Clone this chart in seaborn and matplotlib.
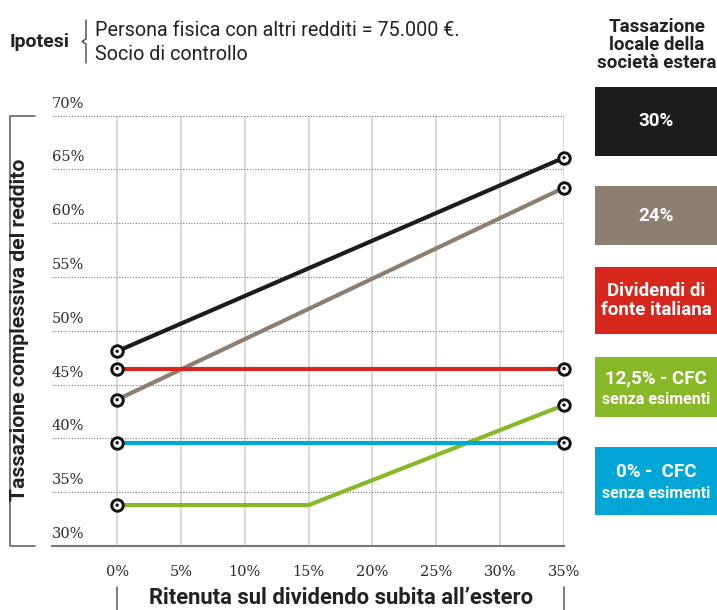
import pandas as pd
import numpy as np
import matplotlib.pyplot as plt
import seaborn as sns
from matplotlib.lines import Line2D
from matplotlib.patches import Rectangle
from matplotlib.transforms import ScaledTranslation

# dati
ritenuta = [0, 35]
ritenuta_cfc125 = [0, 15, 35]
tax_30 = [48.1, 66.1]
tax_24 = [43.6, 63.3]
div_italiani = [46.5, 46.5]
cfc_125 = [33.8, 33.8, 43.1]
cfc_0 = [39.6, 39.6]

y_ticks = [30, 35, 40, 45, 50, 55, 60, 65, 70]
x_ticks = [0, 5, 10, 15, 20, 25, 30, 35]

serie_nomi = ['30%', '24%', 'Dividendi di fonte italiana', '12,5% - CFC', '0% - CFC']
colori = {'30%': '#1e1c1a', '24%': '#8c7f71', 'Dividendi di fonte italiana': '#d7261b',
          '12,5% - CFC': '#86b828', '0% - CFC': '#00a6d6'}

df = pd.concat([
    pd.DataFrame({'ritenuta': ritenuta, 'tassazione': tax_30, 'serie': '30%'}),
    pd.DataFrame({'ritenuta': ritenuta, 'tassazione': tax_24, 'serie': '24%'}),
    pd.DataFrame({'ritenuta': ritenuta, 'tassazione': div_italiani, 'serie': 'Dividendi di fonte italiana'}),
    pd.DataFrame({'ritenuta': ritenuta_cfc125, 'tassazione': cfc_125, 'serie': '12,5% - CFC'}),
    pd.DataFrame({'ritenuta': ritenuta, 'tassazione': cfc_0, 'serie': '0% - CFC'}),
], ignore_index=True)

#%%

sns.set_style('white')
plt.rcParams['font.family'] = ['Liberation Sans Narrow', 'Roboto', 'DejaVu Sans']

W, H = 717, 610
fig = plt.figure(figsize=(W / 100, H / 100), dpi=100)
ax = fig.add_axes([52 / W, 1 - 546 / H, (564 - 52) / W, (546 - 115.7) / H])

sns.lineplot(data=df, x='ritenuta', y='tassazione', hue='serie', hue_order=serie_nomi,
             palette=colori, linewidth=3, legend=False, sort=False, ax=ax, zorder=3)

estremi = df[df['ritenuta'].isin([0, 35])]
sns.scatterplot(data=estremi, x='ritenuta', y='tassazione', s=68, color='white',
                edgecolor='#111111', linewidth=2.1, ax=ax, zorder=5, clip_on=False)
sns.scatterplot(data=estremi, x='ritenuta', y='tassazione', s=6, color='#111111',
                edgecolor='none', ax=ax, zorder=6, clip_on=False)

ax.set_xlim(-5.1, 35)
ax.set_ylim(30, 70)
ax.set_xticks(x_ticks)
ax.set_xticklabels([f'{v}%' for v in x_ticks])
ax.set_yticks(y_ticks)
ax.set_yticklabels([f'{v}%' for v in y_ticks])
ax.set_xlabel('')
ax.set_ylabel('')

# griglia
for v in y_ticks[1:]:
    ax.axhline(v, color='#777777', linestyle=(0, (1, 1.5)), linewidth=0.8, zorder=1)
for v in x_ticks:
    ax.axvline(v, color='#d9d5cd', linewidth=1.3, zorder=0.5)

for side in ['top', 'right', 'left']:
    ax.spines[side].set_visible(False)
ax.spines['bottom'].set_color('#777777')
ax.spines['bottom'].set_linewidth(1.5)

ax.tick_params(axis='x', length=0, pad=14, labelsize=10.5, labelcolor='#2a2a2a')
ax.tick_params(axis='y', length=0, pad=0, labelsize=10.5, labelcolor='#2a2a2a')
for lab in ax.get_xticklabels():
    lab.set_fontfamily('DejaVu Serif')
for lab in ax.get_yticklabels():
    lab.set_fontfamily('DejaVu Serif')
    lab.set_ha('left')
    lab.set_va('bottom')
    lab.set_transform(lab.get_transform() + ScaledTranslation(0, 5 / 100, fig.dpi_scale_trans))


def fx(x):
    return x / W


def fy(y):
    return 1 - y / H


def linea(xs, ys, color='#666666', lw=1.2):
    fig.add_artist(Line2D([fx(x) for x in xs], [fy(y) for y in ys], color=color,
                          linewidth=lw, solid_joinstyle='round', solid_capstyle='round'))


# etichette assi
fig.text(fx(20), fy(330), 'Tassazione complessiva del reddito', rotation=90,
         ha='center', va='center', fontsize=15.3, fontweight='bold', color='#222222')
linea([35, 10, 10, 35], [116, 116, 546, 546])

fig.text(fx(341), fy(598), 'Ritenuta sul dividendo subita all\u2019estero',
         ha='center', va='center', fontsize=15.8, fontweight='bold', color='#222222')
linea([117, 117], [587, 610])
linea([564, 564], [587, 610])

# ipotesi
fig.text(fx(10), fy(42), 'Ipotesi', ha='left', va='center', fontsize=14,
         fontweight='bold', color='#222222')
linea([86, 86, 82, 86, 86], [20, 39, 41.5, 44, 63], color='#444444', lw=1)
fig.text(fx(95), fy(31), 'Persona fisica con altri redditi = 75.000 \u20ac.', ha='left',
         va='center', fontsize=14.2, color='#222222', family=['Roboto', 'DejaVu Sans'])
fig.text(fx(95), fy(54), 'Socio di controllo', ha='left', va='center', fontsize=14.2,
         color='#222222', family=['Roboto', 'DejaVu Sans'])

# legenda a destra
fig.text(fx(657), fy(45), 'Tassazione\nlocale della\nsocietà estera', ha='center',
         va='center', fontsize=13.5, fontweight='bold', color='#222222', linespacing=1.0)

box = [
    ('30%', None, 87, 156),
    ('24%', None, 186, 245),
    ('Dividendi di fonte italiana', None, 267, 334),
    ('12,5% - CFC', 'senza esimenti', 357, 417),
    ('0% - CFC', 'senza esimenti', 447, 515),
]
for nome, sotto, y0, y1 in box:
    fig.add_artist(Rectangle((fx(595), fy(y1)), fx(717 - 595), (y1 - y0) / H,
                             transform=fig.transFigure, facecolor=colori[nome],
                             edgecolor='none'))
    yc = (y0 + y1) / 2
    if nome == 'Dividendi di fonte italiana':
        fig.text(fx(656), fy(yc), 'Dividendi di\nfonte italiana', ha='center', va='center',
                 fontsize=13.5, fontweight='bold', color='white', linespacing=1.05)
    elif sotto:
        titolo = '0% -  CFC' if nome == '0% - CFC' else nome
        fig.text(fx(656), fy(yc - 9), titolo, ha='center', va='center', fontsize=13.5,
                 fontweight='bold', color='white')
        fig.text(fx(656), fy(yc + 13), sotto, ha='center', va='center', fontsize=11.5,
                 fontweight='bold', color='white')
    else:
        fig.text(fx(656), fy(yc), nome, ha='center', va='center', fontsize=13.5,
                 fontweight='bold', color='white')

plt.savefig('out.png', dpi=100)
